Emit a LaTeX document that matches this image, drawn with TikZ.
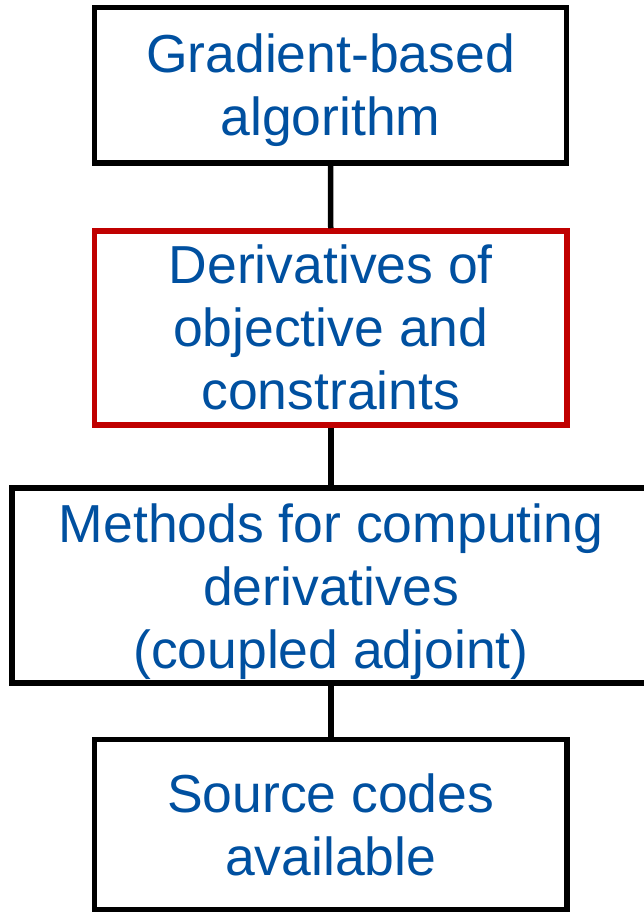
\documentclass[tikz,border=0pt]{standalone}
\usepackage{fontspec}
\setmainfont{Liberation Sans}
\definecolor{textblue}{RGB}{0,80,160}
\definecolor{boxred}{RGB}{192,0,0}
\begin{document}
\begin{tikzpicture}[x=1pt,y=-1pt,
  stage/.style={draw=black, line width=5.5pt, rectangle, inner sep=0pt},
  caption/.style={inner sep=0pt, align=center, text=textblue,
    font=\fontsize{53.5}{63}\selectfont},
  link/.style={draw=black, line width=5.5pt}]
  \useasboundingbox (0,0) rectangle (644,912);
  \clip (0,0) rectangle (644,912);
  % four stacked stages
  \node[stage, minimum width=472pt, minimum height=155.5pt] (b1) at (330.5,85.25) {};
  \node[stage, draw=boxred, minimum width=472.5pt, minimum height=194pt] (b2) at (330.75,328) {};
  \node[stage, minimum width=640pt, minimum height=195pt] (b3) at (332,585.5) {};
  \node[stage, minimum width=472.5pt, minimum height=170.5pt] (b4) at (330.75,824.75) {};
  % their captions
  \node[caption] (t1) at ([yshift=-5pt]b1.center) {Gradient-based\\algorithm};
  \node[caption] (t2) at ([yshift=1pt]b2.center) {Derivatives of\\objective and\\constraints};
  \node[caption] (t3) at ([xshift=-1pt,yshift=-6pt]b3.center) {Methods for computing\\derivatives\\(coupled adjoint)};
  \node[caption] (t4) at (b4.center) {Source codes\\available};
  % connectors between stages
  \draw[link] (b1.south) -- (b2.north);
  \draw[link] (b2.south) -- (b2.south |- b3.north);
  \draw[link] (b3.south -| b4.north) -- (b4.north);
\end{tikzpicture}
\end{document}
